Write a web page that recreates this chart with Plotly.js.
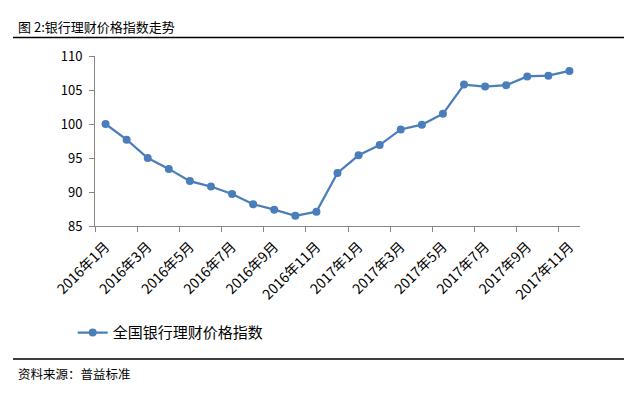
<!DOCTYPE html>
<html>
<head>
<meta charset="utf-8">
<script src="https://cdn.plot.ly/plotly-3.0.1.min.js"></script>
<style>html,body{margin:0;padding:0;background:#fff;}#chart{width:624px;height:397px;}</style>
</head>
<body>
<div id="chart"></div>
<script>
const categories = ["2016年1月","2016年2月","2016年3月","2016年4月","2016年5月","2016年6月","2016年7月","2016年8月","2016年9月","2016年10月","2016年11月","2016年12月","2017年1月","2017年2月","2017年3月","2017年4月","2017年5月","2017年6月","2017年7月","2017年8月","2017年9月","2017年10月","2017年11月"];
const seriesName = "全国银行理财价格指数";
const values = [100.0, 97.7, 95.0, 93.4, 91.6, 90.8, 89.7, 88.2, 87.4, 86.5, 87.1, 92.8, 95.4, 96.9, 99.2, 99.9, 101.5, 105.8, 105.5, 105.7, 107.0, 107.1, 107.8];
const titleText = "图 2:银行理财价格指数走势";
const sourceText = "资料来源：普益标准";
const yTicks = [85, 90, 95, 100, 105, 110];

const idx = categories.map((c, i) => i);
const labelIdx = idx.filter(i => i % 2 === 0);
const boundaryTicks = labelIdx.map(i => i - 0.5);

const font = "Noto Sans CJK SC, Noto Sans, sans-serif";

const trace = {
  x: idx,
  y: values,
  name: seriesName,
  type: "scatter",
  mode: "lines+markers",
  line: {color: "#4A7EBB", width: 2.25},
  marker: {color: "#4A7EBB", size: 8},
  showlegend: true
};

const layout = {
  width: 624, height: 397,
  margin: {l: 95, r: 44, t: 56, b: 171},
  paper_bgcolor: "#fff", plot_bgcolor: "#fff",
  font: {family: font, size: 12, color: "#000"},
  xaxis: {
    range: [-0.5, 22.5],
    tickmode: "array",
    tickvals: labelIdx,
    ticktext: labelIdx.map(i => categories[i]),
    tickangle: -45,
    ticks: "",
    ticklabelstandoff: 6,
    showgrid: false, zeroline: false,
    showline: true, linecolor: "#868686", linewidth: 1,
    tickfont: {family: font, size: 14, color: "#000"},
    minor: {tickmode: "array", tickvals: boundaryTicks, ticks: "outside", ticklen: 5, tickcolor: "#868686", tickwidth: 1, showgrid: false},
    fixedrange: true
  },
  yaxis: {
    range: [85, 110],
    tickmode: "array",
    tickvals: yTicks,
    ticks: "outside", ticklen: 5, tickcolor: "#868686",
    ticklabelstandoff: 4,
    showgrid: false, zeroline: false,
    showline: true, linecolor: "#868686", linewidth: 1,
    tickfont: {family: font, size: 13, color: "#000"},
    fixedrange: true
  },
  legend: {
    orientation: "h",
    x: -0.046, y: -0.628, xanchor: "left", yanchor: "middle",
    font: {family: font, size: 15, color: "#000"},
    bgcolor: "rgba(0,0,0,0)"
  },
  shapes: [
    {type: "line", xref: "paper", yref: "paper", x0: -0.169, x1: 1.0907, y0: 1.109, y1: 1.109, line: {color: "#000", width: 1.5}},
    {type: "line", xref: "paper", yref: "paper", x0: -0.169, x1: 1.0907, y0: -0.782, y1: -0.782, line: {color: "#000", width: 1.5}}
  ],
  annotations: [
    {text: titleText, xref: "paper", yref: "paper", x: -0.1629, y: 1.176, xanchor: "left", yanchor: "middle", showarrow: false, font: {family: font, size: 13, color: "#000"}},
    {text: sourceText, xref: "paper", yref: "paper", x: -0.1629, y: -0.865, xanchor: "left", yanchor: "middle", showarrow: false, font: {family: font, size: 12.5, color: "#000"}}
  ]
};

Plotly.newPlot("chart", [trace], layout, {displayModeBar: false, staticPlot: true});
</script>
</body>
</html>
